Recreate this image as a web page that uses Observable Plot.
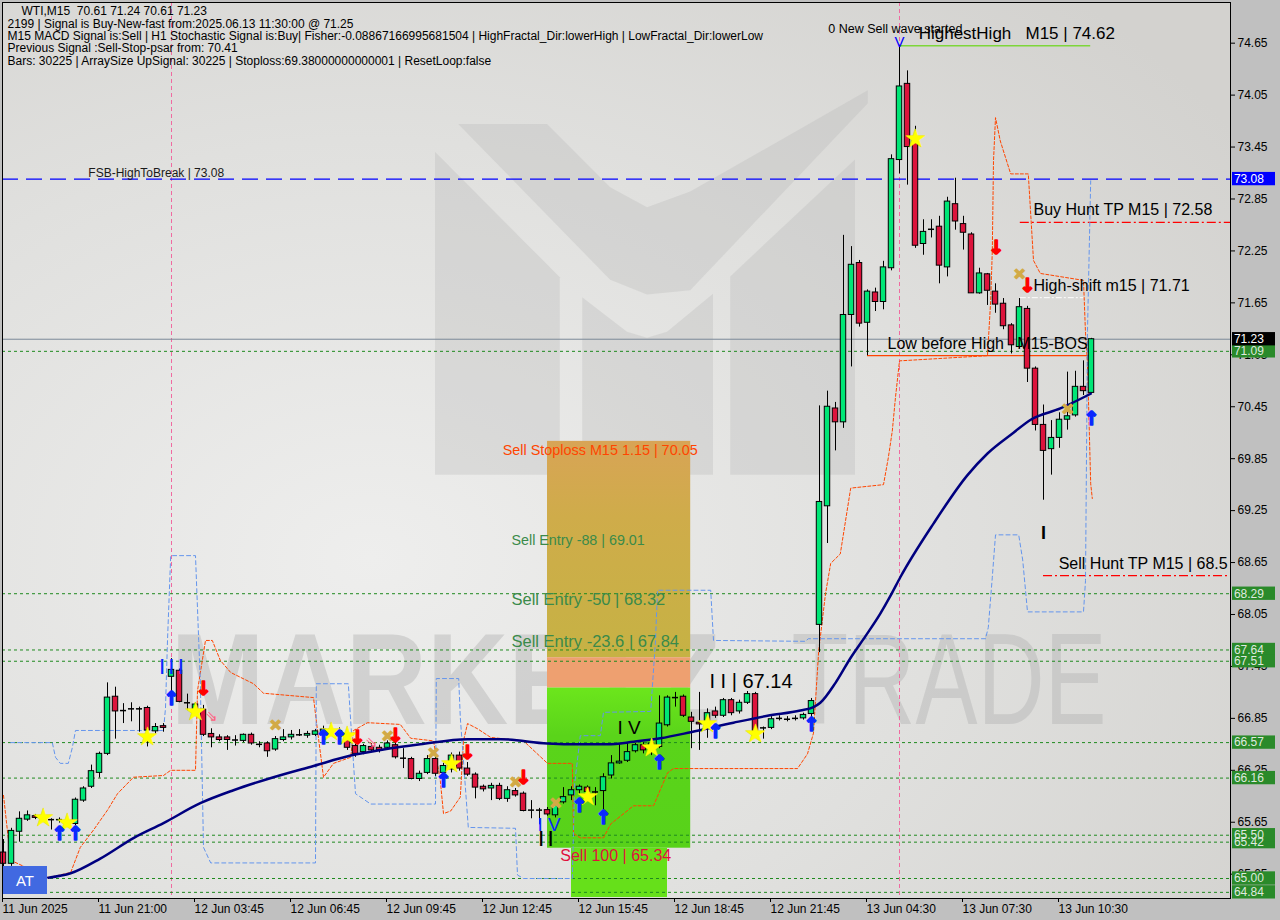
<!DOCTYPE html>
<html><head><meta charset="utf-8">
<script src="https://cdn.jsdelivr.net/npm/d3@7"></script>
<script src="https://cdn.jsdelivr.net/npm/@observablehq/plot@0.6"></script>
<style>
html,body{margin:0;padding:0;background:#c0c0c0;}
#wrap{position:relative;width:1280px;height:920px;overflow:hidden;background:#c0c0c0;}
#at{position:absolute;left:3px;top:866px;width:44px;height:28px;background:#4169e1;color:#fff;font:15px "Liberation Sans",Arial,sans-serif;display:flex;align-items:center;justify-content:center;}
</style></head><body><div id="wrap"></div>
<script>
// ---------- data ----------
const open = [65.30,65.17,65.54,65.68,65.72,65.71,65.68,65.68,65.66,65.63,
65.90,66.06,66.22,66.44,67.10,66.94,66.96,66.96,66.97,66.70,
66.76,67.33,67.40,67.03,66.94,66.95,66.67,66.63,66.63,66.60,
66.59,66.66,66.55,66.56,66.49,66.60,66.63,66.66,66.65,66.66,
66.68,66.72,66.70,66.60,66.53,66.46,66.52,66.51,66.51,66.54,
66.39,66.38,66.15,66.22,66.38,66.22,66.26,66.42,66.27,66.20,
66.06,66.04,66.07,65.92,66.01,65.98,65.79,65.79,65.79,65.73,
65.88,65.96,66.02,66.05,66.00,66.01,66.19,66.33,66.36,66.47,
66.54,66.50,66.52,66.77,67.09,67.10,66.86,66.80,66.79,66.93,
66.88,67.06,66.93,67.03,67.13,66.74,66.74,66.85,66.84,66.85,
66.85,66.90,67.93,69.30,70.43,70.27,71.51,72.11,71.42,71.77,
71.66,72.05,73.30,74.18,73.53,72.33,72.50,72.53,72.06,72.79,
72.56,72.44,71.76,71.98,71.78,71.64,71.39,71.14,71.58,70.89,
70.24,69.96,70.09,70.30,70.35,70.68,70.61];
const high = [65.45,65.58,65.77,65.78,65.74,65.76,65.69,65.70,65.70,65.93,
66.06,66.31,66.46,67.26,67.21,67.02,67.03,66.98,66.99,66.79,
66.79,67.54,67.42,67.13,67.03,67.00,66.73,66.66,66.65,66.65,
66.67,66.68,66.58,66.58,66.64,66.72,66.71,66.72,66.70,66.72,
66.76,66.76,66.74,66.62,66.55,66.55,66.56,66.54,66.59,66.58,
66.50,66.40,66.24,66.42,66.42,66.33,66.45,66.46,66.34,66.22,
66.08,66.10,66.10,66.06,66.04,66.00,65.90,65.81,65.82,65.88,
66.05,66.06,66.08,66.07,66.05,66.21,66.42,66.55,66.57,66.56,
66.57,66.60,67.11,67.11,67.15,67.12,66.92,67.15,66.96,66.98,
67.08,67.08,67.06,67.16,67.15,66.75,66.87,66.88,66.87,66.88,
66.91,67.08,70.46,70.63,70.50,72.43,72.30,72.14,71.80,71.82,
72.13,73.36,74.62,74.33,73.69,72.61,72.61,72.65,72.87,73.09,
72.65,72.46,72.05,71.99,71.87,71.70,71.41,71.70,71.61,70.91,
70.47,70.29,70.38,70.85,70.86,70.98,71.24];
const low = [65.10,65.14,65.42,65.66,65.68,65.66,65.56,65.64,65.60,65.61,
65.88,66.04,66.16,66.42,66.61,66.79,66.81,66.69,66.52,66.67,
66.69,67.04,67.03,66.94,66.90,66.64,66.51,66.58,66.48,66.53,
66.57,66.54,66.51,66.40,66.47,66.58,66.60,66.64,66.62,66.64,
66.62,66.66,66.60,66.48,66.40,66.43,66.46,66.45,66.49,66.38,
66.27,66.14,66.12,66.20,66.18,66.18,66.22,66.24,66.18,65.92,
66.00,65.90,65.90,65.88,65.94,65.77,65.69,65.62,65.72,65.70,
65.86,65.90,65.97,65.96,65.84,65.79,66.15,66.32,66.34,66.45,
66.44,66.42,66.50,66.75,66.98,66.86,66.50,66.48,66.62,66.85,
66.86,66.88,66.90,67.01,66.62,66.61,66.72,66.82,66.81,66.82,
66.83,66.86,67.61,68.87,69.94,70.20,70.91,71.37,71.04,71.55,
71.57,72.02,73.14,73.01,72.28,72.20,72.40,71.87,71.95,72.49,
72.26,71.76,71.75,71.62,71.53,71.34,71.06,71.12,70.73,70.17,
69.37,69.66,69.97,70.18,70.33,70.58,70.61];
const close = [65.17,65.55,65.69,65.73,65.70,65.71,65.68,65.68,65.66,65.91,
66.04,66.24,66.44,67.09,66.93,66.94,66.96,66.96,66.71,66.75,
66.74,67.41,67.04,67.03,67.01,66.66,66.63,66.60,66.60,66.60,
66.66,66.56,66.55,66.47,66.61,66.63,66.66,66.66,66.67,66.70,
66.72,66.72,66.64,66.51,66.44,66.53,66.48,66.48,66.56,66.40,
66.39,66.15,66.21,66.38,66.21,66.30,66.42,66.27,66.20,66.05,
66.03,66.07,65.92,66.02,65.96,65.78,65.79,65.79,65.74,65.84,
65.94,66.02,66.06,66.00,66.00,66.17,66.33,66.35,66.46,66.54,
66.48,66.56,66.79,67.09,67.09,66.88,66.81,66.78,66.91,66.88,
67.06,66.91,67.03,67.13,66.65,66.74,66.84,66.85,66.84,66.85,
66.89,67.05,69.35,70.45,70.27,71.51,72.09,71.41,71.78,71.66,
72.06,73.31,74.15,73.45,72.31,72.47,72.50,72.08,72.82,72.59,
72.46,71.76,71.99,71.79,71.63,71.38,71.16,71.60,70.89,70.24,
69.94,70.09,70.30,70.34,70.68,70.63,71.23];

// moving average (bar index, price)
const maIdx = [5.6,8.4,12.1,16.3,20,24.6,28.75,33.75,38.75,43.4,47.5,52.1,58,62.1,68,72.1,75.5,78.75,82.1,85.9,91.25,95.5,99.6,101.25,102.1,104,105.9,107.75,109.6,110.9,112.1,116.25,120.5,123,126.25,128.4,132.1,135.9];
const maVal = [65.01,65.06,65.23,65.47,65.64,65.87,66.02,66.17,66.30,66.42,66.49,66.55,66.61,66.61,66.56,66.55,66.55,66.58,66.62,66.69,66.80,66.88,66.94,66.98,67.03,67.26,67.55,67.80,68.06,68.27,68.48,69.10,69.66,69.91,70.15,70.30,70.43,70.60];

// upper envelope (orange, dashed)
const upIdx = [0,0.9,5.6,8.4,9.6,11.25,13,14.25,16.25,20,20.9,24,24.25,25.25,26.1,27.1,28.4,31.25,32.5,38.75,39.25,40,41.25,43.4,43.75,45.5,49.6,50.9,53.75,54.6,55,55.9,57.1,57.5,58,59.25,60.9,65,68,71.1,71.25,72.1,75,75.9,78.75,81.25,83,83.75,99.25,100.5,101.25,101.9,102.75,103.4,104.6,105.9,110,110.6,111.1,111.5,112,123,123.4,123.6,123.75,124,124.6,125.9,128.1,128.75,129.6,135,135.25,135.5,135.9,136.1];
const upVal = [65.96,65.21,65.01,65.07,65.36,65.56,65.79,65.98,66.17,66.19,66.25,66.25,67.17,67.75,67.75,67.52,67.38,67.25,67.14,67.09,66.71,66.17,66.33,66.40,66.71,66.80,66.78,66.62,66.59,66.13,65.75,65.78,65.94,66.59,66.79,66.73,66.63,66.59,66.33,66.33,65.52,65.47,65.47,65.63,65.84,65.84,66.22,66.27,66.27,66.44,66.68,67.63,68.29,68.64,68.75,69.51,69.55,69.86,70.17,70.56,70.98,71.04,71.68,72.25,73.29,73.79,73.52,73.14,73.14,72.14,71.99,71.91,71.30,70.95,69.56,69.39];

// lower envelope (blue, dashed)
const dnIdx = [0.9,6.1,6.5,7.1,8.1,8.6,9,20,20.25,20.5,20.9,24,24.4,24.6,25,25.9,39,39.1,43.1,43.4,44,45.9,54,54.1,56.9,57.1,58.1,64,64.25,65,71.1,71.4,72.1,74.6,75,80.9,81.5,81.75,88.4,88.75,100.25,100.6,122.75,123.1,123.6,124,126.9,127.4,128,135,135.25,135.5,135.9];
const dnVal = [66.57,66.57,66.40,66.33,66.33,66.51,66.71,66.71,66.97,67.75,68.73,68.73,67.75,67.29,65.36,65.18,65.18,67.25,67.25,66.82,65.98,65.86,65.86,67.31,67.31,66.86,65.59,65.58,65.04,65.00,65.00,66.10,66.65,66.65,66.92,66.93,67.75,68.33,68.33,67.75,67.74,67.77,67.77,67.90,68.48,68.97,68.97,68.68,68.08,68.08,68.44,71.33,73.06];

// levels
const greenLevels = [71.09,68.29,67.64,67.51,66.57,66.16,65.42,65.50,65.00,64.84];
const fsbHigh = 73.08;
const lastPrice = 71.23;
const highestHigh = 74.62;
const buyHuntTP = 72.58;
const highShift = 71.71;
const lowBeforeHigh = 71.04;
const sellHuntTP = 68.5;
const stopLoss = 70.05;
const entryLevels = [69.01, 68.32, 67.84];
const entryNames = ["-88", "-50", "-23.6"];
const zoneMid = 67.20, zoneSalmon = 67.55, zoneLow = 65.35, sell100 = 65.34, bottomPrice = 64.78;
const zoneBars = [68, 85.9];
const sell100Bars = [71, 83];
const wave2 = 67.14;
const signalBars = [21, 112];   // pink vertical markers

// markers (bar index, price)
const starI = [5,8,18,24,41,43,56,73,81,88,94,114];
const starP = [65.70,65.64,66.64,66.92,66.69,66.65,66.32,65.94,66.51,66.79,66.67,73.54];
const upI = [7,9,21,40,42,55,72,75,82,89,101,136];
const upP = [65.52,65.52,67.08,66.63,66.63,66.13,65.84,65.70,66.34,66.69,66.77,70.31];
const dnI = [25,44.25,49,58,65,124.1,128];
const dnP = [67.19,66.62,66.65,66.45,66.16,72.28,71.85];
const xI = [34,48,53.75,64,69,127,133];
const xP = [66.77,66.64,66.44,66.11,65.87,71.98,70.42];
const pinkI = [26,46];
const pinkP = [66.87,66.58];

// background logo watermark (bar index, top price, bottom price)
const logoLeft  = {i:[54,69.6], top:[73.39,71.94], bottom:[69.66,69.66]};
const logoMid   = {i:[72.4,78,80.5,83,88.75], top:[71.71,71.31,71.24,71.31,71.75], bottom:[69.66,69.66,69.66,69.66,69.66]};
const logoRight = {i:[90.9,106.5], top:[71.95,73.30], bottom:[69.66,69.66]};
const logoTop   = {i:[56.9,68,75.9,80.5,85.9,108.1], top:[73.71,73.71,72.98,72.75,72.93,74.10], bottom:[73.71,72.66,71.91,71.74,71.79,73.95]};

// axes
const yTicks = [74.65,74.05,73.45,72.85,72.25,71.65,71.05,70.45,69.85,69.25,68.65,68.05,67.45,66.85,66.25,65.65,65.05];
const xTickIdx = [0,12,24,36,48,60,72,84,96,108,120,132];
const xTickLabels = ["11 Jun 2025","11 Jun 21:00","12 Jun 03:45","12 Jun 06:45","12 Jun 09:45","12 Jun 12:45","12 Jun 15:45","12 Jun 18:45","12 Jun 21:45","13 Jun 04:30","13 Jun 07:30","13 Jun 10:30"];

const header = [
 "WTI,M15\u00a0\u00a070.61 71.24 70.61 71.23",
 "2199 | Signal is Buy-New-fast from:2025.06.13 11:30:00 @ 71.25",
 "M15 MACD Signal is:Sell | H1 Stochastic Signal is:Buy| Fisher:-0.08867166995681504 | HighFractal_Dir:lowerHigh | LowFractal_Dir:lowerLow",
 "Previous Signal :Sell-Stop-psar from: 70.41",
 "Bars: 30225 | ArraySize UpSignal: 30225 | Stoploss:69.38000000000001 | ResetLoop:false"
];

// ---------- build ----------
const bars = open.map((o,i)=>({i, o, h:high[i], l:low[i], c:close[i]}));
const bodies = bars.filter(d=>d.o!==d.c);
const dojis = bars.filter(d=>d.o===d.c);
const ma = maIdx.map((x,k)=>({x, y:maVal[k]}));
const up = upIdx.map((x,k)=>({x, y:upVal[k]}));
const dn = dnIdx.map((x,k)=>({x, y:dnVal[k]}));
const pts = (I,P)=>I.map((x,k)=>({x, y:P[k]}));
const shape = s=>s.i.map((x,k)=>({x, t:s.top[k], b:s.bottom[k]}));
const FONT = "Liberation Sans, Arial, sans-serif";
const badges = [
  {v:fsbHigh, bg:"#0000ff", fg:"#ffffff"},
  ...greenLevels.map(v=>({v, bg:"#2a8a2a", fg:"#dfe9df"})),
  {v:lastPrice, bg:"#000000", fg:"#ffffff"}
];
const XR = 153.375;
const logoStyle = {x:"x", y1:"b", y2:"t", fill:"#b8b8b6", fillOpacity:0.32};

const chart = Plot.plot({
  width:1280, height:920, marginLeft:2, marginRight:50, marginTop:2, marginBottom:22,
  x:{type:"linear", domain:[-0.125, XR], axis:null},
  y:{domain:[64.769, 75.12], axis:null},
  style:{fontFamily:FONT, fontSize:"12px", background:"transparent", overflow:"visible"},
  marks:[
    Plot.frame({fill:"url(#bgGrad)"}),
    // watermark logo + text
    Plot.areaY(shape(logoLeft), logoStyle),
    Plot.areaY(shape(logoMid), logoStyle),
    Plot.areaY(shape(logoRight), logoStyle),
    Plot.areaY(shape(logoTop), logoStyle),
    Plot.text(["MARKETZ"], {x:()=>20.9, y:()=>67.26, text:d=>d, textAnchor:"start", fontSize:130, fontWeight:"bold", fill:"#b4b4b4", fillOpacity:0.45}),
    Plot.text(["TRADE"], {x:()=>98.5, y:()=>67.26, text:d=>d, textAnchor:"start", fontSize:130, fill:"#b4b4b4", fillOpacity:0.45}),
    // sell zones
    Plot.rect([0], {x1:zoneBars[0], x2:zoneBars[1], y1:stopLoss, y2:zoneSalmon, fill:"url(#slGrad)"}),
    Plot.rect([0], {x1:zoneBars[0], x2:zoneBars[1], y1:zoneSalmon, y2:zoneMid, fill:"#eea070"}),
    Plot.rect([0], {x1:zoneBars[0], x2:zoneBars[1], y1:zoneMid, y2:zoneLow, fill:"url(#grGrad)"}),
    Plot.rect([0], {x1:sell100Bars[0], x2:sell100Bars[1], y1:zoneLow, y2:bottomPrice, fill:"#66e01a"}),
    // vertical signal lines
    Plot.ruleX(signalBars, {stroke:"#f06aa0", strokeDasharray:"4,3", strokeWidth:1}),
    // levels
    Plot.ruleY(greenLevels, {stroke:"#1f8a1f", strokeDasharray:"3,3", strokeWidth:1}),
    Plot.ruleY([fsbHigh], {stroke:"#0000ff", strokeDasharray:"16,8", strokeWidth:1.4}),
    Plot.ruleY([lastPrice], {stroke:"#7a8898", strokeWidth:1}),
    Plot.ruleY([buyHuntTP], {x1:127.1, x2:XR, stroke:"#ff0000", strokeDasharray:"9,3,2,3", strokeWidth:1.2}),
    Plot.ruleY([sellHuntTP], {x1:130, x2:XR, stroke:"#ff0000", strokeDasharray:"9,3,2,3", strokeWidth:1.2}),
    Plot.ruleY([highestHigh], {x1:112, x2:135.9, stroke:"#7ed63a", strokeWidth:1.5}),
    Plot.ruleY([highShift], {x1:127.1, x2:135.25, stroke:"#ffffff", strokeDasharray:"6,2,2,2", strokeWidth:1}),
    Plot.ruleY([lowBeforeHigh], {x1:108, x2:135.9, stroke:"#ff4500", strokeWidth:1.2}),
    // envelopes
    Plot.line(up, {x:"x", y:"y", stroke:"#ff4500", strokeDasharray:"3,2", strokeWidth:1}),
    Plot.line(dn, {x:"x", y:"y", stroke:"#6495ed", strokeDasharray:"4,3", strokeWidth:1}),
    // candles
    Plot.ruleX(bars, {x:"i", y1:"l", y2:"h", stroke:"#000", strokeWidth:1}),
    Plot.rect(bodies, {x1:d=>d.i-0.34, x2:d=>d.i+0.34, y1:"o", y2:"c", fill:d=>d.c>d.o?"#00e676":"#dc143c", stroke:"#000", strokeWidth:1}),
    Plot.ruleY(dojis, {y:"o", x1:d=>d.i-0.38, x2:d=>d.i+0.38, stroke:"#000", strokeWidth:1.5}),
    // moving average
    Plot.line(ma, {x:"x", y:"y", stroke:"#00007f", strokeWidth:2.5, curve:"monotone-x"}),
    // markers
    Plot.text(pts(pinkI,pinkP), {x:"x", y:"y", text:()=>"⇘", fill:"#ff6080", fontSize:15, fontFamily:"DejaVu Sans"}),
    Plot.text(pts(xI,xP), {x:"x", y:"y", text:()=>"✖", fill:"#d2aa46", fontSize:17, fontFamily:"DejaVu Sans"}),
    Plot.text(pts(starI,starP), {x:"x", y:"y", text:()=>"★", fill:"#ffff00", stroke:"#e8e000", strokeWidth:0.5, fontSize:25, fontFamily:"DejaVu Sans"}),
    Plot.text(pts(upI,upP), {x:"x", y:"y", text:()=>"↑", fill:"#0a28ff", stroke:"#0a28ff", strokeWidth:1.6, fontSize:19, fontWeight:"bold", fontFamily:"DejaVu Sans"}),
    Plot.text(pts(dnI,dnP), {x:"x", y:"y", text:()=>"↓", fill:"#ff0000", stroke:"#ff0000", strokeWidth:1.6, fontSize:19, fontWeight:"bold", fontFamily:"DejaVu Sans"}),
    // annotations
    Plot.text([fsbHigh], {x:()=>10.6, y:d=>d, text:d=>`FSB-HighToBreak | ${d.toFixed(2)}`, textAnchor:"start", dy:-6, fontSize:12, fill:"#1a1a1a"}),
    Plot.text([highestHigh], {x:()=>103.1, y:d=>d, text:()=>"0 New Sell wave started", textAnchor:"start", dy:-17, fontSize:12.5, fill:"#000"}),
    Plot.text([highestHigh], {x:()=>114.4, y:d=>d, text:d=>`HighestHigh\u00a0\u00a0\u00a0M15 | ${d.toFixed(2)}`, textAnchor:"start", dy:-12, fontSize:17, fill:"#000"}),
    Plot.text([highestHigh], {x:()=>112, y:d=>d, text:()=>"V", dy:-4, fontSize:15, fill:"#0000ff"}),
    Plot.text([buyHuntTP], {x:()=>128.75, y:d=>d, text:d=>`Buy Hunt TP M15 | ${d.toFixed(2)}`, textAnchor:"start", dy:-12, fontSize:16, fill:"#000"}),
    Plot.text([highShift], {x:()=>128.75, y:d=>d, text:d=>`High-shift m15 | ${d.toFixed(2)}`, textAnchor:"start", dy:-12, fontSize:16, fill:"#000"}),
    Plot.text([lowBeforeHigh], {x:()=>110.5, y:d=>d, text:()=>"Low before High\u00a0\u00a0\u00a0M15-BOS", textAnchor:"start", dy:-12, fontSize:16, fill:"#000"}),
    Plot.text([sellHuntTP], {x:()=>131.9, y:d=>d, text:d=>`Sell Hunt TP M15 | ${d}`, textAnchor:"start", dy:-12, fontSize:16, fill:"#000", clip:true}),
    Plot.text([stopLoss], {x:()=>62.4, y:d=>d, text:d=>`Sell Stoploss M15 1.15 | ${d.toFixed(2)}`, textAnchor:"start", dy:9, fontSize:14.4, fill:"#ff4500"}),
    Plot.text(entryLevels, {x:()=>63.5, y:d=>d, text:(d,k)=>`Sell Entry ${entryNames[k]} | ${d.toFixed(2)}`, textAnchor:"start", dy:9, fontSize:(d,k)=>k===0?14.3:16.5, fill:"#3a8a4a"}),
    Plot.text([wave2], {x:()=>88.25, y:d=>d, text:d=>`I I | ${d.toFixed(2)}`, textAnchor:"start", dy:-12, fontSize:20, fill:"#000"}),
    Plot.text([high[77]], {x:()=>76.75, y:d=>d, text:()=>"I V", textAnchor:"start", dy:-16, fontSize:19, fill:"#000"}),
    Plot.text([low[67]], {x:()=>66.75, y:d=>d, text:()=>"I V", textAnchor:"start", dy:0, fontSize:19, fill:"#0a28ff"}),
    Plot.text([low[67]], {x:()=>66.9, y:d=>d, text:()=>"| |", textAnchor:"start", dy:13, fontSize:17, fontWeight:"bold", fill:"#000"}),
    Plot.text([sell100], {x:()=>69.6, y:d=>d, text:d=>`Sell 100 | ${d.toFixed(2)}`, textAnchor:"start", dy:7, fontSize:16, fill:"#e0103c"}),
    Plot.text([low[130]], {x:()=>130, y:d=>d, text:()=>"I", dy:33, fontSize:18, fontWeight:"bold", fill:"#000"}),
    Plot.text([high[21]], {x:()=>21, y:d=>d, text:()=>"| | |", dy:7, fontSize:17, fontWeight:"bold", fill:"#0a28ff"}),
    // header
    Plot.text([header[0]], {frameAnchor:"top-left", text:d=>d, dx:19, dy:4, fontSize:12, fill:"#000", lineAnchor:"top"}),
    Plot.text([header.slice(1).join("\n")], {frameAnchor:"top-left", text:d=>d, dx:5, dy:16.5, fontSize:12, lineHeight:1.03, fill:"#000", lineAnchor:"top"}),
    // axes
    Plot.axisY(yTicks, {anchor:"right", tickSize:4, tickPadding:3, tickFormat:d=>d.toFixed(2), fontSize:12, fill:"#000", stroke:"#000"}),
    Plot.axisX(xTickIdx, {anchor:"bottom", tickSize:4, tickPadding:2, tickFormat:d=>xTickLabels[xTickIdx.indexOf(d)], textAnchor:"start", dx:-1, fontSize:12, fill:"#000", stroke:"#000"}),
    Plot.rect(badges, {x1:()=>153.625, x2:()=>159.0, y1:d=>d.v-0.077, y2:d=>d.v+0.077, fill:d=>d.bg}),
    Plot.text(badges, {x:()=>153.8, y:"v", text:d=>d.v.toFixed(2), textAnchor:"start", fill:d=>d.fg, fontSize:12}),
    Plot.frame({stroke:"#000"})
  ]
});

const svg = d3.select(chart);
svg.insert("defs", ":first-child").html(`
  <radialGradient id="bgGrad" cx="0.3" cy="0.62" r="0.85">
    <stop offset="0" stop-color="#eeeeed"/><stop offset="0.55" stop-color="#e0e0de"/><stop offset="1" stop-color="#d3d2cf"/>
  </radialGradient>
  <linearGradient id="slGrad" x1="0" y1="0" x2="0" y2="1">
    <stop offset="0" stop-color="#d8a456"/><stop offset="0.35" stop-color="#cfac4a"/><stop offset="1" stop-color="#c6b244"/>
  </linearGradient>
  <linearGradient id="grGrad" x1="0" y1="0" x2="0" y2="1">
    <stop offset="0" stop-color="#6ce61c"/><stop offset="0.3" stop-color="#5ad41a"/><stop offset="1" stop-color="#58d21a"/>
  </linearGradient>`);
svg.selectAll("text").filter(function(){ return this.textContent === "MARKETZ"; })
   .attr("textLength", 550).attr("lengthAdjust","spacingAndGlyphs");
svg.selectAll("text").filter(function(){ return this.textContent === "TRADE"; })
   .attr("textLength", 315).attr("lengthAdjust","spacingAndGlyphs");

const wrap = document.getElementById("wrap");
wrap.appendChild(chart);
const at = document.createElement("div"); at.id = "at"; at.textContent = "AT"; wrap.appendChild(at);
</script></body></html>
